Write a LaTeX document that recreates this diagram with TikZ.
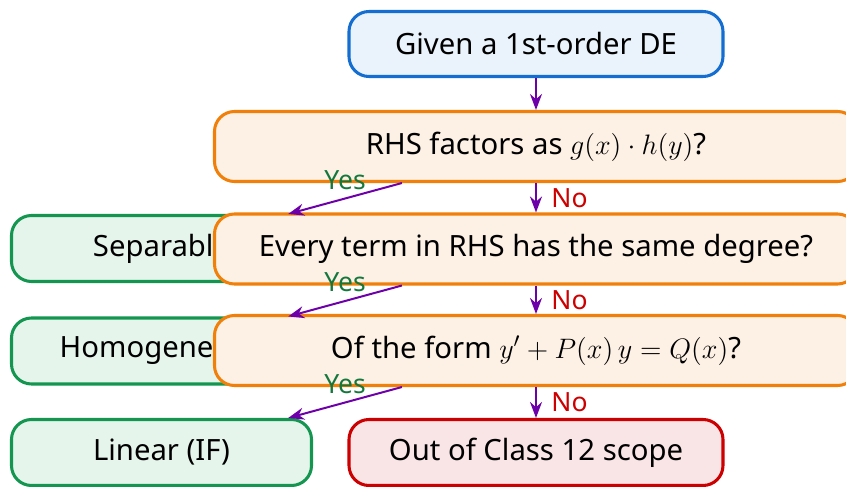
\documentclass[tikz,border=0pt]{standalone}
\usepackage{fontspec}
\setmainfont{Noto Sans}
\usepackage{amsmath}
\usetikzlibrary{arrows.meta, positioning}
\definecolor{startblue}{RGB}{20,110,210}
\definecolor{startfill}{RGB}{234,243,251}
\definecolor{askorange}{RGB}{240,128,10}
\definecolor{askfill}{RGB}{253,240,228}
\definecolor{okgreen}{RGB}{20,150,80}
\definecolor{okfill}{RGB}{230,245,236}
\definecolor{outred}{RGB}{204,0,0}
\definecolor{outfill}{RGB}{249,228,230}
\definecolor{flowpurple}{RGB}{110,0,170}
\definecolor{yesgreen}{RGB}{20,120,60}

\begin{document}
\begin{tikzpicture}[
    box/.style={rounded corners=0.3cm, line width=1.3pt, align=center, font=\fontsize{12.5}{15}\selectfont},
    startbox/.style={box, draw=startblue, fill=startfill, minimum width=5.61cm, minimum height=0.975cm},
    askbox/.style={box, draw=askorange, fill=askfill, minimum width=9.645cm, minimum height=1.05cm},
    typebox/.style={box, draw=okgreen, fill=okfill, minimum width=4.5cm, minimum height=0.99cm},
    outbox/.style={box, draw=outred, fill=outfill, minimum width=5.61cm, minimum height=0.99cm},
    flow/.style={-{Stealth[length=2.4mm, width=1.8mm]}, flowpurple, line width=0.85pt},
    yeslbl/.style={font=\fontsize{11.3}{13}\selectfont, text=yesgreen},
    nolbl/.style={font=\fontsize{11.3}{13}\selectfont, text=outred, xshift=0.1cm}
  ]
    \useasboundingbox (0,0) rectangle (12.69,-7.305);

    % outcomes on the left
    \node[typebox] (sep) at (2.4225,-3.7275) {Separable};
    \node[typebox] (hom) at (2.4225,-5.265) {Homogeneous};
    \node[typebox] (lin) at (2.4225,-6.7875) {Linear (IF)};

    % main column
    \node[startbox] (given) at (8.04,-0.66) {Given a 1st-order DE};
    \node[askbox] (askvar) at (8.04,-2.1975) {RHS factors as $g(x)\cdot h(y)$?};
    \node[askbox] (askdeg) at (8.04,-3.735) {Every term in RHS has the same degree?};
    \node[askbox] (asklin) at (8.04,-5.2575) {Of the form $y' + P(x)\,y = Q(x)$?};
    \node[outbox] (out) at (8.04,-6.7875) {Out of Class 12 scope};

    \draw[flow] (given) -- (askvar);
    \draw[flow] (askvar) -- node[midway, right, nolbl] {No} (askdeg);
    \draw[flow] (askdeg) -- node[midway, right, nolbl] {No} (asklin);
    \draw[flow] (asklin) -- node[midway, right, nolbl] {No} (out);

    \draw[flow] (askvar) -- node[midway, above, yeslbl] {Yes} (sep);
    \draw[flow] (askdeg) -- node[midway, above, yeslbl] {Yes} (hom);
    \draw[flow] (asklin) -- node[midway, above, yeslbl] {Yes} (lin);
  \end{tikzpicture}
\end{document}
